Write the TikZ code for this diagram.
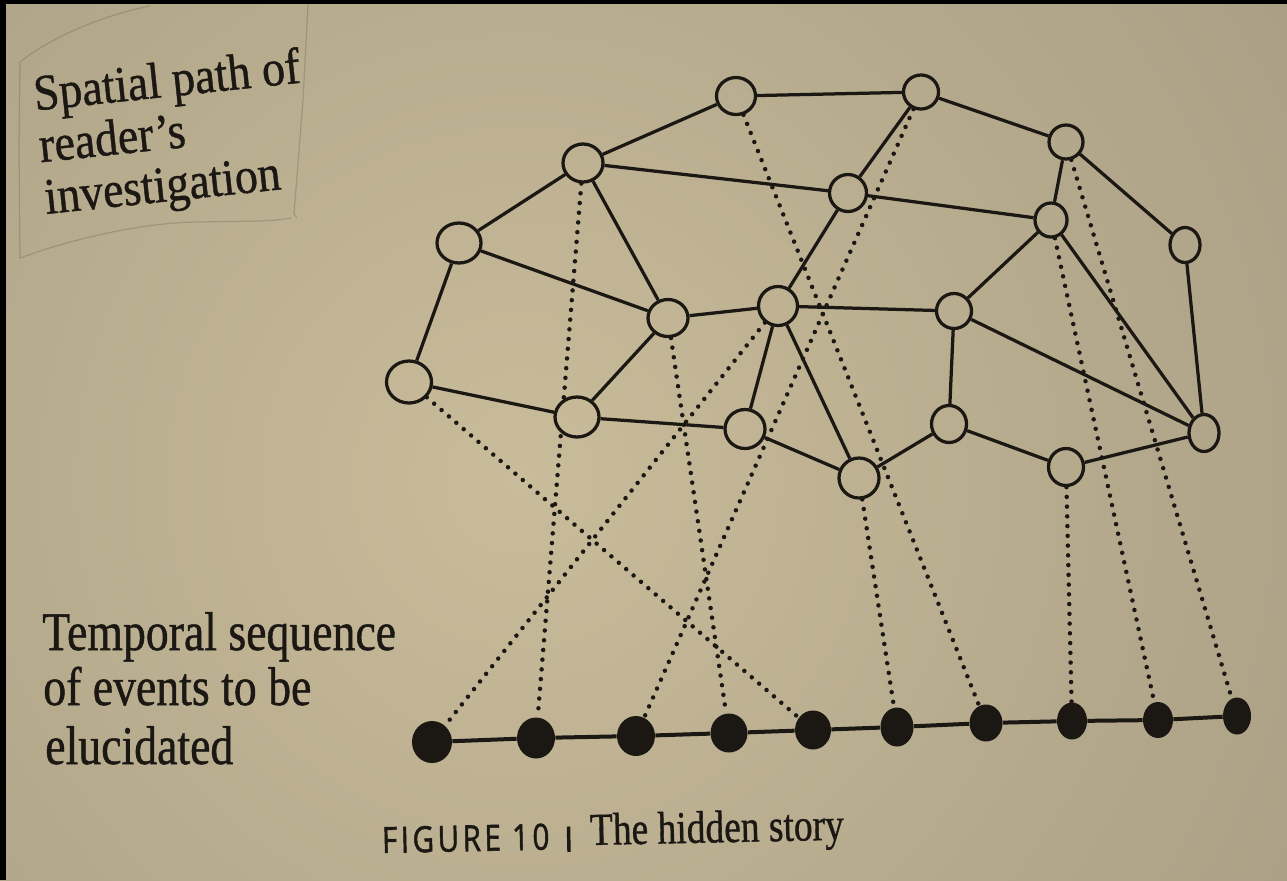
\documentclass[tikz,border=0pt]{standalone}
\usepackage{fontspec}
\setmainfont{Liberation Serif}
\newfontfamily\inkserif{Liberation Serif}[FakeBold=0.9]
\newfontfamily\capsans{Open Sans}[LetterSpace=12.0, FakeBold=1.6]
\usetikzlibrary{shapes.geometric}
\definecolor{ink}{HTML}{1B1814}
\definecolor{paperA}{HTML}{C8BC9A}
\definecolor{paperB}{HTML}{84786A}
\definecolor{pencil}{HTML}{6F695A}
\newcommand\onode[5]{\node[oc, minimum width=#4*0.02cm, minimum height=#5*0.02cm] (#1) at (#2,#3) {};}
\newcommand\fnode[5]{\node[fc, minimum width=#4*0.02cm, minimum height=#5*0.02cm] (#1) at (#2,#3) {};}
\begin{document}
\begin{tikzpicture}[x=0.02cm,y=-0.02cm,
  oc/.style={ellipse, draw=ink, line width=0.065cm, inner sep=0pt},
  fc/.style={ellipse, fill=ink, inner sep=0pt},
  edge/.style={draw=ink, line width=0.065cm},
  axis/.style={draw=ink, line width=0.08cm},
  link/.style={draw=ink, line width=0.09cm, line cap=round, dash pattern=on 0pt off 0.195cm},
  lbltop/.style={text=ink, inner sep=0pt, anchor=base west, align=left, rotate=6, xscale=0.9, font=\inkserif\fontsize{29}{29.6}\selectfont},
  lblbot/.style={text=ink, inner sep=0pt, anchor=base west, xscale=0.84, font=\inkserif\fontsize{31}{31}\selectfont},
  capstyle/.style={text=ink, inner sep=0pt, anchor=base west, rotate=1.2, xscale=0.82},
  pencilline/.style={draw=pencil, line width=0.025cm, opacity=0.35, line cap=round},
]
\useasboundingbox (0,0) rectangle (1287,880);
% paper
\begin{scope}
  \clip (0,0) rectangle (1287,880);
  \fill[paperB] (0,0) rectangle (1287,880);
  \shade[inner color=paperA, outer color=paperB] (520,480) circle (2100);
  \fill[black] (0,0) rectangle (6,880);
  \fill[black] (0,0) rectangle (1287,4);
\end{scope}

% pencil box around the upper label
\draw[pencilline] (20,258) -- (19,150) -- (20,62) .. controls (50,38) and (100,16) .. (150,6);
\draw[pencilline] (308,5) -- (303,100) -- (294,214) -- (297,218);
\draw[pencilline] (20,258) .. controls (80,236) and (150,222) .. (200,222) .. controls (240,221) and (270,222) .. (291,218);

% open nodes (spatial path)
\onode{A}{736}{96}{39}{37}
\onode{B}{921}{92}{35}{34}
\onode{C}{1066}{142}{34}{34}
\onode{D}{583}{163}{40}{38}
\onode{E}{848}{193}{37}{37}
\onode{F}{1051}{220}{32}{34}
\onode{G}{1185}{245}{30}{35}
\onode{H}{459}{243}{44}{40}
\onode{I}{668}{318}{40}{37}
\onode{J}{778}{306}{39}{39}
\onode{K}{954}{311}{35}{35}
\onode{L}{409}{382}{45}{42}
\onode{M}{577}{417}{44}{40}
\onode{N}{745}{429}{40}{39}
\onode{O}{949}{424}{35}{37}
\onode{P}{859}{478}{40}{40}
\onode{Q}{1066}{467}{35}{37}
\onode{R}{1204}{433}{30}{37}

% filled nodes (temporal sequence)
\fnode{b1}{432}{742}{40}{42}
\fnode{b2}{536}{738}{38}{41}
\fnode{b3}{636}{736}{38}{40}
\fnode{b4}{729}{733}{37}{39}
\fnode{b5}{813}{730}{36}{39}
\fnode{b6}{897}{727}{33}{39}
\fnode{b7}{986}{723}{33}{37}
\fnode{b8}{1072}{721}{30}{37}
\fnode{b9}{1158}{720}{30}{36}
\fnode{b10}{1237}{716}{28}{37}

% dotted correspondences; the one from D passes behind M
\draw[link] (J) -- (b1);
\begin{scope}[even odd rule]
  \clip (0,0) rectangle (1287,880) (M.center) ellipse [x radius=23, y radius=21];
  \draw[link] (D) -- (b2);
\end{scope}
\draw[link] (B) -- (b3);
\draw[link] (I) -- (b4);
\draw[link] (L) -- (b5);
\draw[link] (P) -- (b6);
\draw[link] (A) -- (b7);
\draw[link] (Q) -- (b8);
\draw[link] (F) -- (b9);
\draw[link] (C) -- (b10);

% solid edges
\foreach \u/\v in {A/B, A/D, B/C, B/E, C/F, C/G, D/E, D/H, D/I, E/F, E/J, F/K, F/R, G/R, H/I, H/L, I/J, I/M, J/K, J/N, J/P, K/O, K/R, L/M, M/N, N/P, O/P, O/Q, Q/R}
  \draw[edge] (\u) -- (\v);

% time axis
\draw[axis] (b1) -- (b2) -- (b3) -- (b4) -- (b5) -- (b6) -- (b7) -- (b8) -- (b9) -- (b10);

% labels
\node[lbltop] (t1) at (46,214) {Spatial path of\\reader’s\\investigation};

\node[lblbot] (s1) at (42,650) {Temporal sequence};
\node[lblbot] (s2) at (43,705) {of events to be};
\node[lblbot] (s3) at (45,764) {elucidated};

\node[capstyle, font=\capsans\fontsize{20.5}{20.5}\selectfont] (c1) at (382,853) {FIGURE 10};
\node[capstyle] (c2) at (567,852) {\rule{2.4pt}{14.5pt}};
\node[capstyle, font=\inkserif\fontsize{26}{26}\selectfont] (c3) at (590,845) {The hidden story};
\end{tikzpicture}
\end{document}
